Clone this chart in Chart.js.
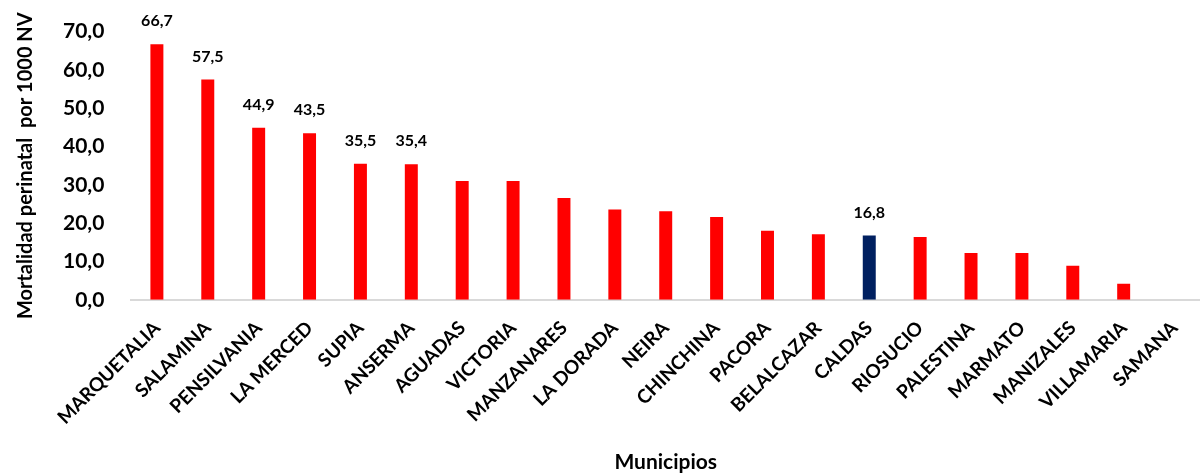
<!DOCTYPE html>
<html>
<head>
<meta charset="utf-8">
<script src="https://cdn.jsdelivr.net/npm/chart.js@4"></script>
<style>
  body { margin: 0; background: #fff; overflow: hidden; }
  #wrap { width: 1200px; height: 475px; }
</style>
</head>
<body>
<div id="wrap"><canvas id="cchart"></canvas></div>
<script>
const municipios = ['MARQUETALIA', 'SALAMINA', 'PENSILVANIA', 'LA MERCED', 'SUPIA', 'ANSERMA', 'AGUADAS',
  'VICTORIA', 'MANZANARES', 'LA DORADA', 'NEIRA', 'CHINCHINA', 'PACORA', 'BELALCAZAR', 'CALDAS',
  'RIOSUCIO', 'PALESTINA', 'MARMATO', 'MANIZALES', 'VILLAMARIA', 'SAMANA'];
const tasas = [66.7, 57.5, 44.9, 43.5, 35.5, 35.4, 31.0, 31.0, 26.6, 23.6, 23.1, 21.6, 18.0, 17.1, 16.8,
  16.4, 12.2, 12.2, 8.9, 4.2, 0];
const conEtiqueta = [true, true, true, true, true, true, false, false, false, false, false, false, false, false, true,
  false, false, false, false, false, false];
const yTicks = [0, 10, 20, 30, 40, 50, 60, 70];

const fmt = v => v.toFixed(1).replace('.', ',');
const FONT = "Lato, 'Open Sans', sans-serif";

const barLabels = {
  id: 'barLabels',
  afterDatasetsDraw(chart) {
    const c = chart.ctx;
    const meta = chart.getDatasetMeta(0);
    c.save();
    c.font = 'bold 16px ' + FONT;
    c.fillStyle = '#000';
    c.textAlign = 'center';
    c.textBaseline = 'bottom';
    meta.data.forEach((bar, i) => {
      if (!conEtiqueta[i]) return;
      c.fillText(fmt(tasas[i]), bar.x, bar.y - 15);
    });
    c.restore();
  }
};

const ctx = document.getElementById('cchart');
new Chart(ctx, {
  type: 'bar',
  data: {
    labels: municipios,
    datasets: [{
      data: tasas,
      backgroundColor: municipios.map(m => m === 'CALDAS' ? '#002060' : '#ff0000'),
      barPercentage: 0.5,
      categoryPercentage: 0.51,
    }],
  },
  options: {
    responsive: true,
    maintainAspectRatio: false,
    animation: false,
    layout: { padding: { top: 18, right: -18, left: 10, bottom: 0 } },
    plugins: { legend: { display: false }, tooltip: { enabled: false } },
    scales: {
      x: {
        grid: { display: false },
        border: { color: '#d9d9d9', width: 2 },
        ticks: {
          color: '#000',
          padding: 9,
          font: { size: 19, weight: 'bold', family: FONT },
          maxRotation: 45,
          minRotation: 45,
          autoSkip: false,
        },
        title: {
          display: true,
          text: 'Municipios',
          color: '#000',
          font: { size: 21, weight: 'bold', family: FONT },
          padding: { top: 12, bottom: 0 },
        },
      },
      y: {
        min: 0,
        max: 70,
        afterBuildTicks: axis => { axis.ticks = yTicks.map(v => ({ value: v })); },
        grid: { display: false },
        border: { display: false },
        ticks: {
          color: '#000',
          padding: 19,
          font: { size: 21, weight: 'bold', family: FONT },
          callback: v => fmt(v),
        },
        title: {
          display: true,
          text: 'Mortalidad perinatal  por 1000 NV',
          color: '#000',
          font: { size: 20, weight: 'bold', family: FONT },
          padding: { bottom: 6 },
        },
      },
    },
  },
  plugins: [barLabels],
});
</script>
</body>
</html>
